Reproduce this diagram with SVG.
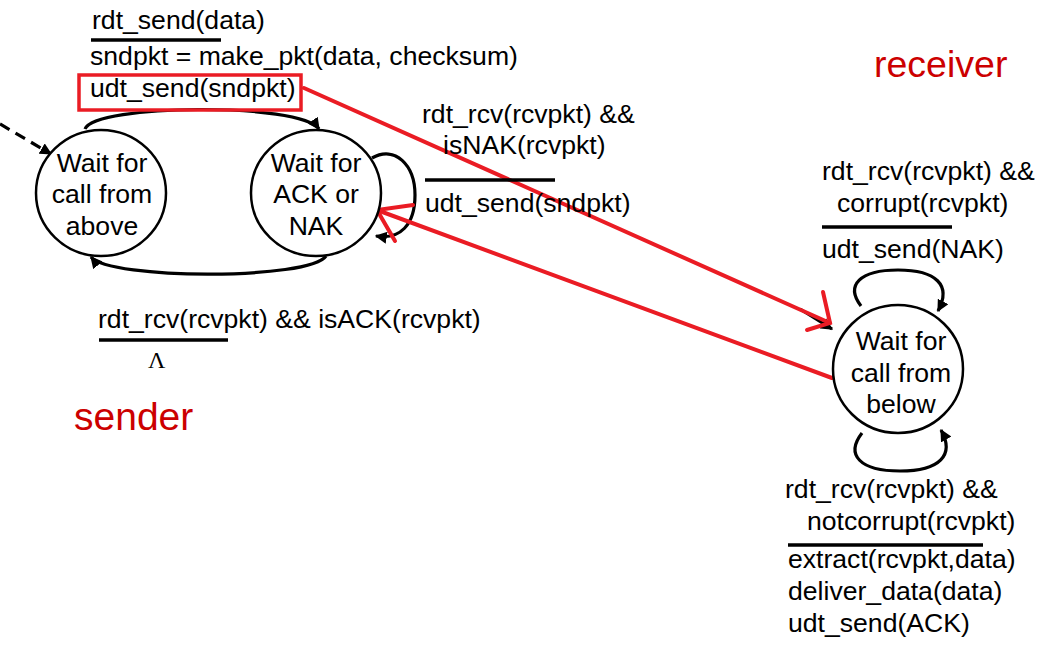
<svg xmlns="http://www.w3.org/2000/svg" width="1054" height="655" viewBox="0 0 1054 655">
<style>
.t{font-family:"Liberation Sans",Arial,sans-serif;font-size:26.6px;fill:#000}
.c{font-family:"Liberation Sans",Arial,sans-serif;font-size:26.6px;fill:#000;text-anchor:middle}
.r{font-family:"Liberation Sans",Arial,sans-serif;fill:#cc0000}
.st{fill:#fff;stroke:#000;stroke-width:2.5}
.e{fill:none;stroke:#000;stroke-width:3.2}
.bar{stroke:#000;stroke-width:3.5}
.red{fill:none;stroke:#ea1c24;stroke-width:4;stroke-linecap:round}
</style>
<defs>
<marker id="ah" viewBox="0 0 10 10" refX="9" refY="5" markerWidth="12" markerHeight="12" markerUnits="userSpaceOnUse" orient="auto">
<path d="M0,0 L10,5 L0,10 z" fill="#000"/>
</marker>
</defs>
<rect width="1054" height="655" fill="#fff"/>

<g id="connectors">
<path class="e" d="M0,124 L51,154" stroke-dasharray="11,7" marker-end="url(#ah)"/>
<path class="e" d="M85,129 C95,104 300,102 319,129" marker-end="url(#ah)"/>
<path class="e" d="M326,256 C310,280 110,280 91,257" marker-end="url(#ah)"/>
<path class="e" d="M372,158 C395,145 415,165 415,195 C415,225 400,240 376,236" stroke-width="2.5" marker-end="url(#ah)"/>
<path class="e" d="M861,306 C845,285 860,270 898,270 C936,270 952,285 938,311" marker-end="url(#ah)"/>
<path class="e" d="M862,433 C845,455 860,471 900,471 C940,471 955,455 941,430" marker-end="url(#ah)"/>
<path class="e" d="M800,309 L832,329" marker-end="url(#ah)"/>
<path class="red" d="M304,88 L830,323"/>
<path class="red" d="M823,292 L830,323 L807,330"/>
<path class="red" d="M832,378 L377,210"/>
<path class="red" d="M413,205 L377,210 L395,241"/>
</g>

<g id="sender-label"><text class="r" x="74" y="430" font-size="39">sender</text></g>
<g id="receiver-label"><text class="r" x="874" y="77" font-size="37.5">receiver</text></g>

<g id="wait-above">
<ellipse class="st" cx="101" cy="193" rx="65" ry="63"/>
<text class="c" x="102" y="172">Wait for</text>
<text class="c" x="102" y="203">call from</text>
<text class="c" x="102" y="235">above</text>
</g>

<g id="wait-ack">
<ellipse class="st" cx="316" cy="193" rx="65" ry="63"/>
<text class="c" x="316" y="172">Wait for</text>
<text class="c" x="316" y="203">ACK or</text>
<text class="c" x="316" y="235">NAK</text>
</g>

<g id="wait-below">
<ellipse class="st" cx="898" cy="369" rx="65" ry="64"/>
<text class="c" x="901" y="350">Wait for</text>
<text class="c" x="901" y="382">call from</text>
<text class="c" x="901" y="413">below</text>
</g>

<g id="label-send">
<text class="t" x="92" y="29">rdt_send(data)</text>
<line class="bar" x1="91" y1="40" x2="221" y2="40"/>
<text class="t" x="90" y="65">sndpkt = make_pkt(data, checksum)</text>
<text class="t" x="90" y="97">udt_send(sndpkt)</text>
<rect x="79" y="75" width="222" height="35" fill="none" stroke="#ea1c24" stroke-width="3.5"/>
</g>

<g id="label-nak">
<text class="t" x="422" y="123">rdt_rcv(rcvpkt) &amp;&amp;</text>
<text class="t" x="443" y="154">isNAK(rcvpkt)</text>
<line class="bar" x1="425" y1="180" x2="555" y2="180"/>
<text class="t" x="425" y="212">udt_send(sndpkt)</text>
</g>

<g id="label-ack">
<text class="t" x="98" y="328">rdt_rcv(rcvpkt) &amp;&amp; isACK(rcvpkt)</text>
<line class="bar" x1="99" y1="340" x2="228" y2="340"/>
<text x="148" y="368" font-family="Liberation Serif,Times New Roman,serif" font-size="24">Λ</text>
</g>

<g id="label-corrupt">
<text class="t" x="822" y="180">rdt_rcv(rcvpkt) &amp;&amp;</text>
<text class="t" x="837" y="212">corrupt(rcvpkt)</text>
<line class="bar" x1="822" y1="227" x2="952" y2="227"/>
<text class="t" x="822" y="258">udt_send(NAK)</text>
</g>

<g id="label-notcorrupt">
<text class="t" x="785" y="498">rdt_rcv(rcvpkt) &amp;&amp;</text>
<text class="t" x="807" y="530">notcorrupt(rcvpkt)</text>
<line class="bar" x1="788" y1="545" x2="983" y2="545"/>
<text class="t" x="788" y="568">extract(rcvpkt,data)</text>
<text class="t" x="788" y="600">deliver_data(data)</text>
<text class="t" x="788" y="632">udt_send(ACK)</text>
</g>
</svg>
